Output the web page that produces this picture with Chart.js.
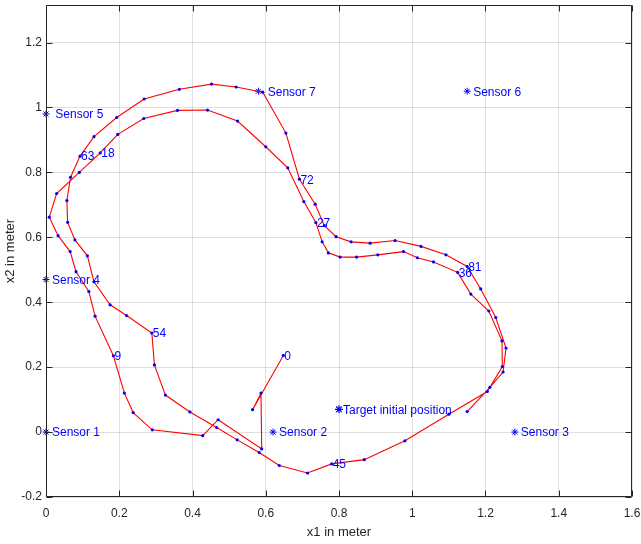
<!DOCTYPE html>
<html>
<head>
<meta charset="utf-8">
<title>Target track</title>
<script src="https://cdn.jsdelivr.net/npm/chart.js@4.4.1/dist/chart.umd.min.js"></script>
<style>
    html, body { margin: 0; padding: 0; background: #fff; }
    #wrap { width: 641px; height: 544px; }
</style>
</head>
<body>
<div id="wrap"><canvas id="trackChart" width="641" height="544"></canvas></div>
<script>
// estimated track positions, step 0..87
var trajX = [0.648, 0.564, 0.587, 0.589, 0.470, 0.428, 0.290, 0.238, 0.214, 0.184,
             0.134, 0.117, 0.082, 0.066, 0.033, 0.009, 0.029, 0.091, 0.148, 0.196,
             0.267, 0.359, 0.441, 0.523, 0.600, 0.660, 0.704, 0.737, 0.754, 0.771,
             0.803, 0.848, 0.906, 0.976, 1.014, 1.058, 1.124, 1.160, 1.209, 1.245,
             1.246, 1.205, 1.100, 0.980, 0.869, 0.780, 0.714, 0.637, 0.582, 0.522,
             0.466, 0.393, 0.326, 0.296, 0.289, 0.220, 0.175, 0.131, 0.113, 0.079,
             0.059, 0.057, 0.067, 0.093, 0.131, 0.193, 0.268, 0.364, 0.452, 0.519,
             0.592, 0.655, 0.692, 0.735, 0.760, 0.792, 0.833, 0.885, 0.953, 1.024,
             1.092, 1.150, 1.187, 1.228, 1.256, 1.248, 1.212, 1.150];
var trajY = [0.236, 0.069, 0.120, -0.052, 0.038, -0.011, 0.007, 0.060, 0.120, 0.235,
             0.357, 0.433, 0.494, 0.556, 0.605, 0.662, 0.735, 0.800, 0.860, 0.917,
             0.966, 0.991, 0.992, 0.958, 0.879, 0.814, 0.710, 0.645, 0.586, 0.552,
             0.539, 0.539, 0.546, 0.556, 0.537, 0.524, 0.492, 0.425, 0.373, 0.281,
             0.202, 0.125, 0.055, -0.027, -0.085, -0.098, -0.126, -0.103, -0.063, -0.024,
             0.014, 0.062, 0.114, 0.207, 0.305, 0.359, 0.392, 0.463, 0.543, 0.592,
             0.646, 0.713, 0.785, 0.850, 0.910, 0.969, 1.026, 1.056, 1.072, 1.063,
             1.047, 0.921, 0.779, 0.702, 0.636, 0.602, 0.586, 0.582, 0.590, 0.572,
             0.546, 0.510, 0.441, 0.353, 0.259, 0.185, 0.138, 0.063];
var labelEvery = 9;

var sensorNames = ['Sensor 1', 'Sensor 2', 'Sensor 3', 'Sensor 4', ' Sensor 5', 'Sensor 6', ' Sensor 7'];
var sensorX = [0, 0.62, 1.28, 0, 0, 1.15, 0.58];
var sensorY = [0, 0, 0, 0.47, 0.98, 1.05, 1.05];

var targetNames = ['Target initial position'];
var targetX = [0.8];
var targetY = [0.07];

var xTicks = [0, 0.2, 0.4, 0.6, 0.8, 1, 1.2, 1.4, 1.6];
var xTickLabels = ['0', '0.2', '0.4', '0.6', '0.8', '1', '1.2', '1.4', '1.6'];
var yTicks = [-0.2, 0, 0.2, 0.4, 0.6, 0.8, 1, 1.2];
var yTickLabels = ['-0.2', '0', '0.2', '0.4', '0.6', '0.8', '1', '1.2'];

var FONT = '"Liberation Sans", Arial, Helvetica, sans-serif';
var AXIS_INK = '#262626';

function toPoints(xs, ys) {
    var pts = [];
    for (var i = 0; i < xs.length; i++) {
        pts.push({ x: xs[i], y: ys[i] });
    }
    return pts;
}

// numbers along the track and names next to the stars
var textPlugin = {
    id: 'trackText',
    afterDatasetsDraw: function (chart) {
        var ctx = chart.ctx;
        var sx = chart.scales.x, sy = chart.scales.y;
        ctx.save();
        ctx.fillStyle = '#0000ff';
        ctx.font = '12px ' + FONT;
        ctx.textAlign = 'left';
        ctx.textBaseline = 'middle';
        for (var i = 0; i < trajX.length; i += labelEvery) {
            ctx.fillText(String(i), sx.getPixelForValue(trajX[i]) + 1, sy.getPixelForValue(trajY[i]) + 1);
        }
        for (var j = 0; j < sensorNames.length; j++) {
            ctx.fillText(sensorNames[j], sx.getPixelForValue(sensorX[j]) + 6, sy.getPixelForValue(sensorY[j]) + 1);
        }
        for (var k = 0; k < targetNames.length; k++) {
            ctx.fillText(targetNames[k], sx.getPixelForValue(targetX[k]) + 4, sy.getPixelForValue(targetY[k]) + 1);
        }
        ctx.restore();
    }
};

// matlab style box with inward ticks on all four sides
var boxPlugin = {
    id: 'boxTicks',
    afterDraw: function (chart) {
        var ctx = chart.ctx;
        var a = chart.chartArea;
        var sx = chart.scales.x, sy = chart.scales.y;
        var L = Math.round(a.left) + 0.5, R = Math.round(a.right) - 0.5;
        var T = Math.round(a.top) + 0.5, B = Math.round(a.bottom) - 0.5;
        var len = 6;
        ctx.save();
        ctx.strokeStyle = AXIS_INK;
        ctx.lineWidth = 1;
        ctx.beginPath();
        ctx.rect(L, T, R - L, B - T);
        for (var i = 0; i < xTicks.length; i++) {
            var px = Math.round(sx.getPixelForValue(xTicks[i])) + 0.5;
            ctx.moveTo(px, B); ctx.lineTo(px, B - len);
            ctx.moveTo(px, T); ctx.lineTo(px, T + len);
        }
        for (var j = 0; j < yTicks.length; j++) {
            var py = Math.round(sy.getPixelForValue(yTicks[j])) + 0.5;
            ctx.moveTo(L, py); ctx.lineTo(L + len, py);
            ctx.moveTo(R, py); ctx.lineTo(R - len, py);
        }
        ctx.stroke();
        ctx.restore();
    }
};

function noEdgePadding(scale) {
    scale.paddingLeft = 0;
    scale.paddingRight = 0;
    scale.paddingTop = 0;
    scale.paddingBottom = 0;
}

new Chart(document.getElementById('trackChart'), {
    type: 'scatter',
    data: {
        datasets: [
            {
                label: 'track',
                data: toPoints(trajX, trajY),
                showLine: true,
                borderColor: '#ff0000',
                borderWidth: 1.1,
                pointRadius: 1.6,
                pointBackgroundColor: '#0000ff',
                pointBorderColor: '#0000ff',
                pointBorderWidth: 0,
                pointHoverRadius: 0,
                tension: 0,
                clip: false
            },
            {
                label: 'sensors',
                data: toPoints(sensorX, sensorY),
                pointStyle: 'star',
                pointRadius: 3.5,
                pointBorderColor: '#0000ff',
                pointBackgroundColor: '#0000ff',
                pointBorderWidth: 1,
                clip: false
            },
            {
                label: 'target',
                data: toPoints(targetX, targetY),
                pointStyle: 'star',
                pointRadius: 4,
                pointBorderColor: '#0000ff',
                pointBackgroundColor: '#0000ff',
                pointBorderWidth: 1.2,
                clip: false
            }
        ]
    },
    options: {
        responsive: false,
        animation: false,
        devicePixelRatio: 1,
        layout: { padding: { top: 5, right: 9, left: 0, bottom: 0 } },
        plugins: {
            legend: { display: false },
            tooltip: { enabled: false }
        },
        scales: {
            x: {
                type: 'linear',
                min: 0,
                max: 1.6,
                afterBuildTicks: function (scale) {
                    scale.ticks = xTicks.map(function (v) { return { value: v }; });
                },
                afterFit: function (scale) {
                    scale.height = 47;
                    noEdgePadding(scale);
                },
                ticks: {
                    color: AXIS_INK,
                    font: { family: FONT, size: 12 },
                    padding: 9,
                    maxRotation: 0,
                    callback: function (value) {
                        var i = xTicks.indexOf(value);
                        return i >= 0 ? xTickLabels[i] : '';
                    }
                },
                grid: { color: 'rgba(38,38,38,0.15)', drawTicks: false },
                border: { display: false },
                title: {
                    display: true,
                    text: 'x1 in meter',
                    color: AXIS_INK,
                    font: { family: FONT, size: 13 },
                    padding: { top: 0, bottom: 4 }
                }
            },
            y: {
                type: 'linear',
                min: -0.2,
                max: 1.315,
                afterBuildTicks: function (scale) {
                    scale.ticks = yTicks.map(function (v) { return { value: v }; });
                },
                afterFit: function (scale) {
                    scale.width = 46;
                    noEdgePadding(scale);
                },
                ticks: {
                    color: AXIS_INK,
                    font: { family: FONT, size: 12 },
                    padding: 4,
                    callback: function (value) {
                        var i = yTicks.indexOf(value);
                        return i >= 0 ? yTickLabels[i] : '';
                    }
                },
                grid: { color: 'rgba(38,38,38,0.15)', drawTicks: false },
                border: { display: false },
                title: {
                    display: true,
                    text: 'x2 in meter',
                    color: AXIS_INK,
                    font: { family: FONT, size: 13 },
                    padding: { top: 3, bottom: 0 }
                }
            }
        }
    },
    plugins: [textPlugin, boxPlugin]
});
</script>
</body>
</html>
